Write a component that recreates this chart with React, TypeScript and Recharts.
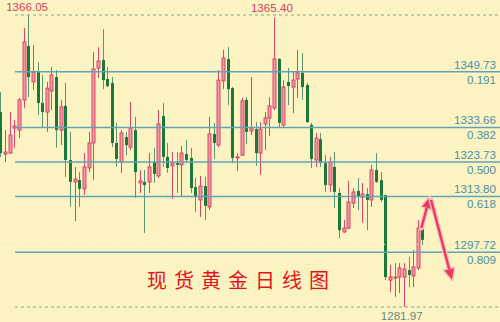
import { ComposedChart, Bar, XAxis, YAxis, ReferenceLine, ReferenceDot } from "recharts";

// daily candles
const opens = [1338.1, 1326.0, 1326.3, 1333.5, 1332.9, 1341.6, 1357.1, 1346.8, 1349.6, 1340.7, 1338.1, 1344.2, 1348.2, 1332.9, 1339.9, 1324.3, 1318.0, 1318.5, 1316.0, 1322.0, 1329.2, 1350.8, 1353.1, 1347.6, 1346.5, 1329.2, 1323.7, 1330.9, 1328.0, 1332.9, 1317.7, 1318.0, 1318.0, 1323.7, 1319.7, 1337.0, 1325.2, 1322.6, 1323.4, 1322.9, 1326.0, 1324.9, 1316.5, 1312.8, 1316.8, 1310.8, 1331.8, 1328.6, 1347.1, 1353.4, 1345.0, 1324.9, 1325.7, 1341.6, 1332.7, 1333.2, 1326.3, 1334.7, 1336.4, 1339.3, 1353.4, 1334.4, 1346.8, 1345.3, 1347.6, 1349.4, 1345.9, 1334.4, 1324.3, 1330.3, 1323.4, 1317.1, 1322.3, 1314.8, 1303.6, 1304.7, 1311.9, 1315.4, 1313.6, 1314.5, 1312.8, 1321.4, 1318.5, 1314.2, 1289.7, 1290.3, 1290.6, 1290.6, 1292.6, 1290.9, 1293.2, 1304.7];
const highs = [1343.9, 1332.9, 1338.1, 1335.8, 1342.2, 1362.3, 1366.05, 1357.4, 1352.5, 1348.8, 1346.8, 1351.1, 1350.2, 1341.6, 1346.5, 1332.4, 1322.3, 1320.8, 1326.3, 1332.4, 1355.4, 1356.8, 1362.0, 1351.1, 1348.2, 1335.0, 1332.9, 1332.4, 1341.0, 1336.7, 1321.4, 1321.4, 1326.3, 1327.8, 1338.7, 1340.7, 1329.2, 1326.6, 1326.6, 1328.3, 1330.1, 1327.8, 1319.1, 1319.7, 1319.4, 1336.7, 1335.0, 1350.2, 1356.0, 1356.8, 1345.3, 1326.3, 1342.2, 1342.4, 1348.2, 1335.2, 1335.2, 1338.1, 1342.4, 1365.4, 1353.6, 1347.3, 1350.8, 1349.6, 1356.0, 1355.1, 1346.5, 1335.0, 1332.1, 1332.1, 1325.7, 1325.2, 1326.6, 1316.2, 1307.0, 1318.3, 1316.2, 1319.1, 1317.7, 1316.2, 1322.9, 1326.3, 1320.8, 1314.3, 1294.1, 1294.6, 1294.6, 1294.6, 1296.4, 1298.4, 1307.0, 1307.9];
const lows = [1325.2, 1323.7, 1326.0, 1327.8, 1330.6, 1339.3, 1342.4, 1344.5, 1337.3, 1333.8, 1332.4, 1338.7, 1327.8, 1328.6, 1319.4, 1310.8, 1306.7, 1310.8, 1314.2, 1320.8, 1318.5, 1347.9, 1344.7, 1345.3, 1328.0, 1322.3, 1320.6, 1325.7, 1327.2, 1313.4, 1314.8, 1303.3, 1314.8, 1317.7, 1319.1, 1322.3, 1320.6, 1313.1, 1314.8, 1313.6, 1323.4, 1314.8, 1309.3, 1307.9, 1307.0, 1309.9, 1324.6, 1328.0, 1344.7, 1340.1, 1323.4, 1321.1, 1325.5, 1328.9, 1331.5, 1322.6, 1320.0, 1327.2, 1331.2, 1338.7, 1333.5, 1333.8, 1340.1, 1337.8, 1342.2, 1341.6, 1335.0, 1322.0, 1322.3, 1322.3, 1315.1, 1315.1, 1310.5, 1301.8, 1303.3, 1304.4, 1310.5, 1309.9, 1306.2, 1304.1, 1310.8, 1317.7, 1312.2, 1289.7, 1286.3, 1284.9, 1286.0, 1281.97, 1287.7, 1287.7, 1292.6, 1299.8];
const closes = [1326.3, 1326.6, 1331.5, 1334.1, 1341.6, 1358.3, 1348.2, 1349.6, 1340.7, 1338.1, 1345.0, 1348.8, 1332.9, 1339.6, 1324.3, 1318.0, 1318.8, 1316.0, 1322.3, 1329.2, 1350.5, 1352.8, 1347.3, 1345.6, 1329.2, 1324.6, 1332.1, 1328.6, 1333.5, 1320.8, 1318.3, 1317.1, 1322.3, 1320.3, 1334.7, 1325.2, 1322.0, 1323.4, 1322.9, 1326.3, 1324.3, 1316.2, 1313.6, 1316.8, 1311.1, 1331.8, 1329.2, 1347.3, 1353.7, 1344.7, 1324.9, 1325.2, 1341.3, 1332.4, 1333.5, 1326.3, 1333.2, 1336.4, 1339.9, 1353.4, 1335.0, 1345.3, 1345.6, 1347.3, 1349.4, 1345.3, 1335.2, 1324.6, 1330.6, 1323.4, 1317.1, 1323.7, 1315.1, 1304.1, 1304.7, 1312.2, 1315.1, 1313.9, 1314.5, 1312.8, 1321.4, 1318.0, 1312.8, 1290.6, 1290.6, 1290.6, 1293.2, 1292.9, 1291.2, 1293.5, 1304.7, 1301.3];

// fibonacci levels and extremes
const fibPrices = ["1349.73", "1333.66", "1323.73", "1313.80", "1297.72"];
const fibRatios = ["0.191", "0.382", "0.500", "0.618", "0.809"];
const swingHigh = { i: 6, value: 1366.05, label: "1366.05" };
const secondHigh = { i: 59, value: 1365.4, label: "1365.40" };
const swingLow = { i: 87, value: 1281.97, label: "1281.97" };
const gridLevel = 1300;

// forecast arrows (index, price)
const arrowUp = [{ x: 90.8, y: 1304.7 }, { x: 92.6, y: 1313.6 }];
const arrowDown = [{ x: 92.9, y: 1312.8 }, { x: 97.4, y: 1289.8 }];

const title = "现货黄金日线图";

const data = opens.map((o, i) => ({
  i,
  open: o,
  high: highs[i],
  low: lows[i],
  close: closes[i],
}));

const BG = "#fbf4c2";
const FIB = "#62a2b6";
const FIB_TEXT = "#4d8ea3";
const UP_FILL = "#ed9aa4";
const UP_LINE = "#d8466a";
const DOWN_FILL = "#1c783a";
const DOWN_WICK = "#5b9670";
const LINE_START = 3.17;
const LINE_END = 107.76;

function Candle(props: any) {
  const { x, y, width, height, payload } = props;
  if (!payload) return null;
  const { open, close, high, low } = payload;
  const top = Math.min(y, y + height);
  const h = Math.abs(height);
  const k = h / (high - low);
  const yOf = (v: number) => top + (high - v) * k;
  const cx = Math.round(x + width / 2);
  const up = close >= open;
  const bTop = yOf(Math.max(open, close));
  const bBot = yOf(Math.min(open, close));
  const bh = Math.max(bBot - bTop, 1);
  return (
    <g>
      <line
        x1={cx + 0.5}
        x2={cx + 0.5}
        y1={top}
        y2={top + h}
        stroke={up ? UP_LINE : DOWN_WICK}
        strokeWidth={1}
      />
      {up ? (
        <rect x={cx - 1} y={bTop} width={3} height={bh} fill={UP_FILL} stroke={UP_LINE} strokeWidth={1} />
      ) : (
        <rect x={cx - 1} y={bTop} width={3} height={bh} fill={DOWN_FILL} />
      )}
    </g>
  );
}

function FibLabel(props: any) {
  const { viewBox, price, ratio } = props;
  if (!viewBox) return null;
  const right = viewBox.x + viewBox.width - 4;
  const y = viewBox.y;
  const style = { fontFamily: "'Liberation Sans', Arial, sans-serif", fontSize: 11.6 };
  return (
    <g>
      <text x={right} y={y - 3} textAnchor="end" fill={FIB_TEXT} style={style}>
        {price}
      </text>
      <text x={right} y={y + 12} textAnchor="end" fill={FIB_TEXT} style={style}>
        {ratio}
      </text>
    </g>
  );
}

function Arrow(props: any) {
  const { x1, y1, x2, y2 } = props;
  const ang = Math.atan2(y2 - y1, x2 - x1);
  const len = 11;
  const half = 5;
  const bx = x2 - Math.cos(ang) * len;
  const by = y2 - Math.sin(ang) * len;
  const px = -Math.sin(ang) * half;
  const py = Math.cos(ang) * half;
  const pts = `${x2},${y2} ${bx + px},${by + py} ${bx - px},${by - py}`;
  return (
    <g>
      <line x1={x1} y1={y1} x2={bx} y2={by} stroke="#f7c4c4" strokeWidth={5} strokeLinecap="round" />
      <polygon points={pts} fill="#f7c4c4" stroke="#f7c4c4" strokeWidth={3} strokeLinejoin="round" />
      <line x1={x1} y1={y1} x2={bx} y2={by} stroke="#ec3a5c" strokeWidth={2.4} />
      <polygon points={pts} fill="#ec3a5c" />
    </g>
  );
}

const textFont = "'Liberation Sans', Arial, sans-serif";

export default function App() {
  return (
    <div style={{ position: "fixed", left: 0, top: 0, width: 500, height: 322, background: BG }}>
      <ComposedChart width={500} height={322} data={data} margin={{ top: 0, right: 0, bottom: 0, left: 0 }}>
        <XAxis type="number" dataKey="i" domain={[-0.065, LINE_END]} allowDataOverflow hide />
        <YAxis type="number" domain={[1277.65, 1370.37]} allowDataOverflow hide />
        <ReferenceLine y={gridLevel} stroke="#eadfae" strokeDasharray="1 2" />
        <ReferenceLine
          segment={[{ x: LINE_START, y: swingHigh.value }, { x: LINE_END, y: swingHigh.value }]}
          stroke="#84a2a4"
          strokeDasharray="3 3"
        />
        <ReferenceLine
          segment={[{ x: LINE_START, y: swingLow.value }, { x: LINE_END, y: swingLow.value }]}
          stroke="#84a2a4"
          strokeDasharray="3 3"
        />
        {fibPrices.map((p, k) => (
          <ReferenceLine
            key={p}
            segment={[{ x: LINE_START, y: Number(p) }, { x: LINE_END, y: Number(p) }]}
            stroke={FIB}
            strokeWidth={1.4}
            label={<FibLabel price={p} ratio={fibRatios[k]} />}
          />
        ))}
        <Bar dataKey={(d: any) => [d.low, d.high]} barSize={3} shape={<Candle />} isAnimationActive={false} />
        <ReferenceDot
          x={swingHigh.i}
          y={swingHigh.value}
          r={0}
          shape={(p: any) => (
            <text x={p.cx - 1} y={p.cy - 4} textAnchor="middle" fill="#d2405e" style={{ fontFamily: textFont, fontSize: 11.6 }}>
              {swingHigh.label}
            </text>
          )}
        />
        <ReferenceDot
          x={secondHigh.i}
          y={secondHigh.value}
          r={0}
          shape={(p: any) => (
            <text x={p.cx - 2} y={p.cy - 5} textAnchor="middle" fill="#d2405e" style={{ fontFamily: textFont, fontSize: 11.6 }}>
              {secondHigh.label}
            </text>
          )}
        />
        <ReferenceDot
          x={swingLow.i}
          y={swingLow.value}
          r={0}
          shape={(p: any) => (
            <text x={p.cx - 2} y={p.cy + 13} textAnchor="middle" fill="#5d8b86" style={{ fontFamily: textFont, fontSize: 11.6 }}>
              {swingLow.label}
            </text>
          )}
        />
        <ReferenceLine segment={arrowUp} shape={<Arrow />} />
        <ReferenceLine segment={arrowDown} shape={<Arrow />} />
      </ComposedChart>
      <div
        style={{
          position: "absolute",
          left: 147,
          top: 269,
          fontFamily: "'Noto Sans CJK SC', sans-serif",
          fontSize: 20,
          lineHeight: "22px",
          letterSpacing: 7,
          color: "#e5121b",
          whiteSpace: "nowrap",
        }}
      >
        {title}
      </div>
    </div>
  );
}
